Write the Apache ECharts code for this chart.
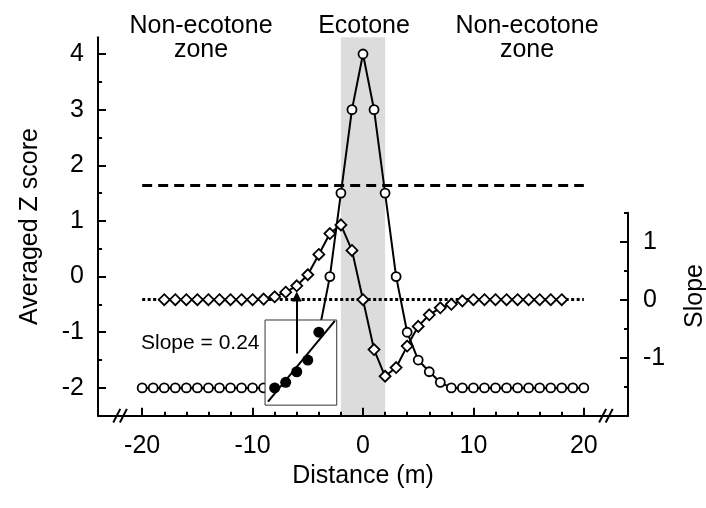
<!DOCTYPE html>
<html><head><meta charset="utf-8">
<script src="https://cdn.jsdelivr.net/npm/echarts@6/dist/echarts.min.js"></script>
<style>html,body{margin:0;padding:0;background:#fff}#c{width:706px;height:508px}</style>
</head><body><div id="c"></div>
<script>
// ---- data ----
const distance = [-20,-19,-18,-17,-16,-15,-14,-13,-12,-11,-10,-9,-8,-7,-6,-5,-4,-3,-2,-1,0,1,2,3,4,5,6,7,8,9,10,11,12,13,14,15,16,17,18,19,20];
const zScore = [-2,-2,-2,-2,-2,-2,-2,-2,-2,-2,-2,-2,-2,-1.9,-1.71,-1.5,-1.0,0,1.5,3,4,3,1.5,0,-1.0,-1.5,-1.71,-1.9,-2,-2,-2,-2,-2,-2,-2,-2,-2,-2,-2,-2,-2];
const slopeDistance = [-18,-17,-16,-15,-14,-13,-12,-11,-10,-9,-8,-7,-6,-5,-4,-3,-2,-1,0,1,2,3,4,5,6,7,8,9,10,11,12,13,14,15,16,17,18];
const slopeValue = [0,0,0,0,0,0,0,0,0,0.01,0.05,0.13,0.24,0.43,0.78,1.14,1.29,0.85,0,-0.86,-1.32,-1.17,-0.80,-0.46,-0.26,-0.14,-0.08,-0.02,0,0,0,0,0,0,0,0,0];
const zThreshold = 1.65;
const ecotoneRange = [-2, 2];
const xTickLabels = [-20,-10,0,10,20];
const xMinorTicks = [-20,-18,-16,-14,-12,-10,-8,-6,-4,-2,0,2,4,6,8,10,12,14,16,18,20];
const zTickLabels = [-2,-1,0,1,2,3,4];
const zMinorTicks = [-1.5,-0.5,0.5,1.5,2.5,3.5];
const slopeTickLabels = [-1,0,1];
const slopeMinorTicks = [-1.5,-0.5,0.5,1.5];
const insetWindow = [-8,-4];
const insetCenter = -6;
const insetSlopeText = 'Slope = 0.24';
const zoneTitles = ['Non-ecotone', 'zone', 'Ecotone'];

// ---- derived ----
const FONT = "'Liberation Sans', Arial, Helvetica, sans-serif";
const zData = distance.map((d,i)=>[d, zScore[i]]);
const slopeData = slopeDistance.map((d,i)=>[d, slopeValue[i]]);
const insetPts = zData.filter(p=>p[0]>=insetWindow[0] && p[0]<=insetWindow[1]);
const mx = insetPts.reduce((s,p)=>s+p[0],0)/insetPts.length;
const my = insetPts.reduce((s,p)=>s+p[1],0)/insetPts.length;
const sxy = insetPts.reduce((s,p)=>s+(p[0]-mx)*(p[1]-my),0);
const sxx = insetPts.reduce((s,p)=>s+(p[0]-mx)*(p[0]-mx),0);
const fitSlope = sxy/sxx;
const fitAt = x => my + fitSlope*(x-mx);
const fitLine = [[insetWindow[0]-0.6, fitAt(insetWindow[0]-0.6)], [insetWindow[1]+1.45, fitAt(insetWindow[1]+1.45)]];
const insetBox = [[insetWindow[0]-0.87, -0.78], [insetWindow[1]+1.62, -2.31]];

const BLACK = '#000';
const tickStyle = {color: BLACK, width: 2};
const lblStyle = {color: BLACK, fontSize: 25, fontFamily: FONT};

const chart = echarts.init(document.getElementById('c'), null, {renderer: 'canvas'});
const option = {
  backgroundColor: '#fff',
  animation: false,
  grid: [
    {left: 98, right: 78, top: 37.3, bottom: 92.3},
    {left: 98, right: 78, top: 212.7, bottom: 92.3}
  ],
  xAxis: [
    {gridIndex: 0, type: 'value', min: -24, max: 24, position: 'bottom', z: 10,
     axisLine: {show: true, onZero: false, lineStyle: {color: BLACK, width: 2}},
     axisTick: {show: true, inside: true, length: 8, customValues: xTickLabels, lineStyle: tickStyle},
     axisLabel: {show: true, customValues: xTickLabels, margin: 18, ...lblStyle},
     splitLine: {show: false},
     name: 'Distance (m)', nameLocation: 'middle', nameGap: 42,
     nameTextStyle: lblStyle},
    {gridIndex: 0, type: 'value', min: -24, max: 24, position: 'bottom', z: 10,
     axisLine: {show: false, onZero: false},
     axisTick: {show: true, inside: true, length: 4, customValues: xMinorTicks, lineStyle: tickStyle},
     axisLabel: {show: false}, splitLine: {show: false}},
    {gridIndex: 1, type: 'value', min: -24, max: 24, show: false,
     axisLine: {onZero: false}}
  ],
  yAxis: [
    {gridIndex: 0, type: 'value', min: -2.5, max: 4.3, position: 'left', z: 10,
     axisLine: {show: true, onZero: false, lineStyle: {color: BLACK, width: 2}},
     axisTick: {show: true, inside: true, length: 8, customValues: zTickLabels, lineStyle: tickStyle},
     axisLabel: {show: true, customValues: zTickLabels, margin: 14, ...lblStyle},
     splitLine: {show: false},
     name: 'Averaged Z score', nameLocation: 'middle', nameRotate: 90, nameGap: 55,
     nameTextStyle: lblStyle},
    {gridIndex: 0, type: 'value', min: -2.5, max: 4.3, position: 'left', z: 10,
     axisLine: {show: false, onZero: false},
     axisTick: {show: true, inside: true, length: 4, customValues: zMinorTicks, lineStyle: tickStyle},
     axisLabel: {show: false}, splitLine: {show: false}},
    {gridIndex: 1, type: 'value', min: -2, max: 1.5, position: 'right', z: 10,
     axisLine: {show: true, onZero: false, lineStyle: {color: BLACK, width: 2}},
     axisTick: {show: true, inside: true, length: 8, customValues: slopeTickLabels, lineStyle: tickStyle},
     axisLabel: {show: true, customValues: slopeTickLabels, margin: 15, ...lblStyle},
     splitLine: {show: false}},
    {gridIndex: 1, type: 'value', min: -2, max: 1.5, position: 'right', z: 10,
     axisLine: {show: false, onZero: false},
     axisTick: {show: true, inside: true, length: 4, customValues: slopeMinorTicks, lineStyle: tickStyle},
     axisLabel: {show: false}, splitLine: {show: false}}
  ],
  series: [
    {
      name: 'Averaged Z score', type: 'line', xAxisIndex: 0, yAxisIndex: 0, z: 3,
      data: zData, symbol: 'circle', symbolSize: 9, showAllSymbol: true,
      lineStyle: {color: BLACK, width: 2},
      itemStyle: {color: '#fff', borderColor: BLACK, borderWidth: 1.8},
      markArea: {silent: true, z: 1, itemStyle: {color: '#dcdcdc'},
        data: [[{xAxis: ecotoneRange[0]}, {xAxis: ecotoneRange[1]}]]},
      markLine: {silent: true, symbol: 'none', label: {show: false},
        lineStyle: {color: BLACK, width: 3, type: [10, 6]},
        data: [[{coord: [xTickLabels[0], zThreshold]}, {coord: [xTickLabels[xTickLabels.length-1], zThreshold]}]]}
    },
    {
      name: 'Slope', type: 'line', xAxisIndex: 2, yAxisIndex: 2, z: 4,
      data: slopeData, symbol: 'diamond', symbolSize: 11, showAllSymbol: true,
      lineStyle: {color: BLACK, width: 2},
      itemStyle: {color: '#fff', borderColor: BLACK, borderWidth: 1.8},
      markLine: {silent: true, symbol: 'none', label: {show: false}, z: 2,
        lineStyle: {color: BLACK, width: 3, type: [3, 2.5]},
        data: [[{coord: [xTickLabels[0], 0]}, {coord: [xTickLabels[xTickLabels.length-1], 0]}]]}
    },
    {
      name: 'inset box', type: 'custom', xAxisIndex: 0, yAxisIndex: 0, z: 6, silent: true,
      data: [0],
      renderItem: function (params, api) {
        const p1 = api.coord(insetBox[0]);
        const p2 = api.coord(insetBox[1]);
        return {type: 'rect', shape: {x: p1[0], y: p1[1], width: p2[0]-p1[0], height: p2[1]-p1[1]},
          style: {fill: '#fff', stroke: '#333', lineWidth: 1}};
      }
    },
    {
      name: 'inset fit', type: 'line', xAxisIndex: 0, yAxisIndex: 0, z: 7, silent: true,
      data: fitLine, symbol: 'none', lineStyle: {color: BLACK, width: 2},
      markLine: {silent: true, z: 8, symbol: ['none', 'triangle'], symbolSize: 10, label: {show: false},
        lineStyle: {color: BLACK, width: 2, type: 'solid'},
        data: [[{coord: [insetCenter, -1.38]}, {coord: [insetCenter, -0.36]}]]}
    },
    {
      name: 'inset points', type: 'scatter', xAxisIndex: 0, yAxisIndex: 0, z: 8, silent: true,
      data: insetPts, symbol: 'circle', symbolSize: 11,
      itemStyle: {color: BLACK, opacity: 1}
    }
  ],
  graphic: [
    {type: 'text', x: 201, y: 26, z: 20, style: {text: zoneTitles[0], font: `25px ${FONT}`, fill: BLACK, align: 'center', verticalAlign: 'middle'}},
    {type: 'text', x: 201, y: 50, z: 20, style: {text: zoneTitles[1], font: `25px ${FONT}`, fill: BLACK, align: 'center', verticalAlign: 'middle'}},
    {type: 'text', x: 364, y: 26, z: 20, style: {text: zoneTitles[2], font: `25px ${FONT}`, fill: BLACK, align: 'center', verticalAlign: 'middle'}},
    {type: 'text', x: 527, y: 26, z: 20, style: {text: zoneTitles[0], font: `25px ${FONT}`, fill: BLACK, align: 'center', verticalAlign: 'middle'}},
    {type: 'text', x: 527, y: 50, z: 20, style: {text: zoneTitles[1], font: `25px ${FONT}`, fill: BLACK, align: 'center', verticalAlign: 'middle'}},
    {type: 'text', x: 141, y: 343, z: 20, style: {text: insetSlopeText, font: `21px ${FONT}`, fill: BLACK, align: 'left', verticalAlign: 'middle'}},
    {type: 'text', x: 695, y: 296, z: 20, rotation: Math.PI/2, style: {text: 'Slope', font: `25px ${FONT}`, fill: BLACK, align: 'center', verticalAlign: 'middle'}}
  ]
};
chart.setOption(option);

// axis break marks "//" on the bottom axis at ±22
const breaks = [-22, 22];
const extra = [];
breaks.forEach(b => {
  const p = chart.convertToPixel({xAxisIndex: 0, yAxisIndex: 0}, [b, -2.5]);
  [-3.3, 3.3].forEach(off => {
    const cx = p[0] + off;
    extra.push({type: 'line', z: 30, silent: true,
      shape: {x1: cx - 3.5, y1: p[1] + 6.8, x2: cx + 3.5, y2: p[1] - 6.8},
      style: {stroke: BLACK, lineWidth: 2}});
  });
});
chart.setOption({graphic: option.graphic.concat(extra)});
</script>
</body></html>
